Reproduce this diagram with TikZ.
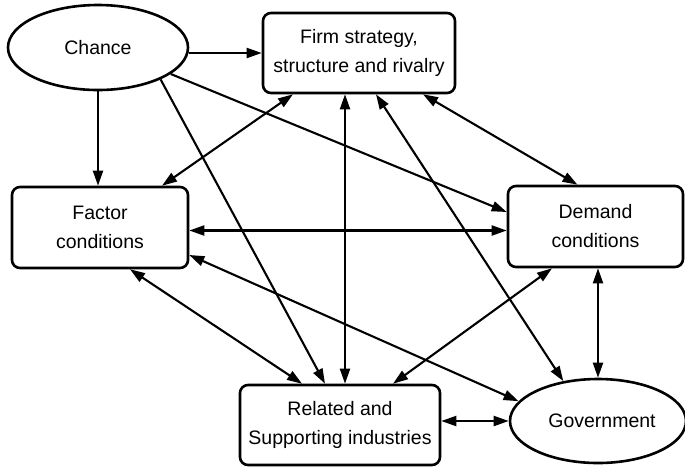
\documentclass[tikz,border=0pt]{standalone}
\usepackage{fontspec}
\setmainfont{Liberation Sans}
\usetikzlibrary{arrows.meta,shapes.geometric}
\begin{document}
\begin{tikzpicture}[x=1pt,y=-1pt,
  every node/.style={font=\fontsize{19.5}{29}\selectfont, align=center, inner sep=0pt},
  box/.style={draw, line width=2.6pt, rounded corners=8pt, minimum width=#1, minimum height=80pt},
  oval/.style={draw, ellipse, line width=2.6pt},
  conn/.style={line width=2.1pt, -{Triangle[length=15pt,width=10pt]}},
  bconn/.style={line width=2.1pt, {Triangle[length=15pt,width=10pt]}-{Triangle[length=15pt,width=10pt]}}]
\useasboundingbox (0,0) rectangle (685,467);
\node[oval, minimum width=180pt, minimum height=85pt] (chance) at (98,47.5) {Chance};
\node[box=192pt] (firm) at (359,53) {Firm strategy,\\structure and rivalry};
\node[box=176pt, minimum height=81pt] (factor) at (100,227.5) {Factor\\conditions};
\node[box=175pt, minimum height=81pt] (demand) at (595.5,226.5) {Demand\\conditions};
\node[box=200pt] (related) at (340,425) {Related and\\Supporting industries};
\node[oval, minimum width=176pt, minimum height=84pt] (gov) at (598,421) {\hspace*{8pt}Government};
% from Chance
\draw[conn] (chance.east |- firm.west) -- (firm.west);
\draw[conn] (chance.south) -- (chance.south |- factor.north);
\draw[conn] (chance.-27) -- ([xshift=-15pt]related.north);
\draw[conn] (chance.-20) -- ([yshift=14.5pt]demand.west);
% from Firm
\draw[bconn] ([xshift=-66pt]firm.south) -- ([xshift=62pt]factor.north);
\draw[bconn] ([xshift=-14pt]firm.south) -- ([xshift=5pt]related.north);
\draw[bconn] ([xshift=17pt]firm.south) -- (gov.131);
\draw[bconn] ([xshift=64pt]firm.south) -- ([xshift=-18pt]demand.north);
% from Factor
\draw[bconn] ([yshift=-3pt]factor.east) -- ([yshift=-3pt]factor.east -| demand.west);
\draw[bconn] ([xshift=30pt]factor.south) -- ([xshift=-38pt]related.north);
\draw[bconn] ([yshift=-27.5pt]factor.east) -- (gov.166);
% others
\draw[bconn] ([xshift=-43.5pt]demand.south) -- ([xshift=53pt]related.north);
\draw[bconn] (demand.south -| gov.north) -- (gov.north);
\draw[bconn] (gov.west -| related.east) -- (gov.west);
\end{tikzpicture}
\end{document}
